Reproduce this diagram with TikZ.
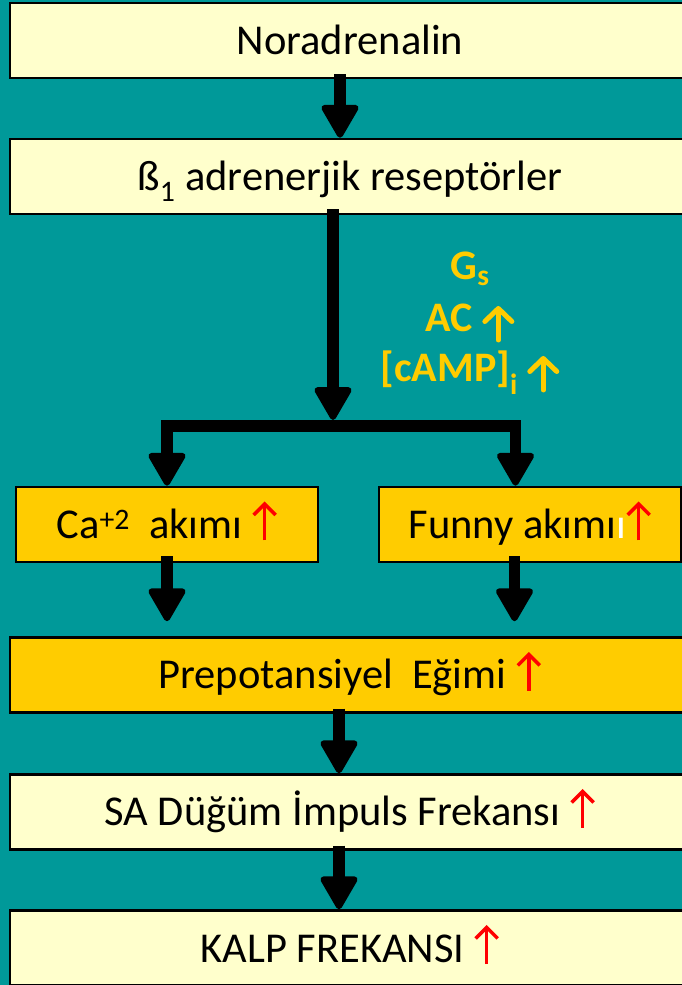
\documentclass[tikz,border=0pt]{standalone}
\usepackage{fontspec}
\setmainfont{Carlito}
\usetikzlibrary{arrows.meta,calc}
\definecolor{bgteal}{HTML}{009999}
\definecolor{paleyel}{HTML}{FFFFCC}
\definecolor{goldy}{HTML}{FFCC00}
\definecolor{redup}{HTML}{FF0000}
\newcommand\redarrow{\tikz[baseline=0pt]\draw[redup,line width=3.5pt,-{Straight Barb[length=11pt,width=22pt]}] (0pt,-2pt) -- (0pt,37pt);}
\newcommand\goldarrow{\tikz[baseline=0pt]\draw[goldy,line width=5pt,line cap=round,-{Straight Barb[length=13pt,width=27pt,round]}] (0pt,-8pt) -- (0pt,26pt);}
\begin{document}
\begin{tikzpicture}[x=1pt,y=1pt,
  box/.style={draw=black,line width=2.5pt,minimum height=75pt,inner sep=0pt,
    text height=34pt,text depth=6pt,font=\fontsize{42.5}{50}\selectfont},
  widebox/.style={box,fill=paleyel,minimum width=680pt},
  goldwide/.style={box,fill=goldy,minimum width=680pt},
  halfbox/.style={box,fill=goldy,minimum width=302pt},
  bigarrow/.style={line width=11.5pt,line join=miter,-{Triangle[length=36pt,width=40pt,line width=6pt,round]}},
  gtext/.style={anchor=base,text=goldy,font=\fontsize{42}{50}\selectfont\bfseries}]
\useasboundingbox (0,0) rectangle (682,985);
\clip (0,0) rectangle (682,985);
\fill[bgteal] (0,0) rectangle (682,985);
% boxes
\node[widebox] (b1) at (350,944.5) {Noradrenalin};
\node[widebox] (b2) at (350,808.5) {ß\textsubscript{1} adrenerjik reseptörler};
\node[halfbox] (ca) at (167,460.5) {Ca\textsuperscript{+2}\ \ akımı \redarrow};
\node[halfbox] (funny) at (530,460.5) {Funny akımı{\color{white}ı}\redarrow};
\node[goldwide] (prep) at (350,310) {Prepotansiyel\ \ Eğimi \redarrow};
\node[widebox] (sa) at (350,173) {SA Düğüm İmpuls Frekansı \redarrow};
\node[widebox] (kalp) at (350,37) {KALP FREKANSI \redarrow};
% gold labels
\node[gtext] (gs) at (470,705) {G\textsubscript{s}};
\node[gtext] (ac) at (470,653) {AC \goldarrow};
\node[gtext] (camp) at (470,603) {[cAMP]\textsubscript{i} \goldarrow};
% junction
\coordinate (jtop) at (333,565);
\coordinate (jm) at (333,559);
% connectors
\draw[bigarrow] ($(b1.south)+(-10pt,5pt)$) -- ($(b2.north)+(-10pt,0pt)$);
\draw[bigarrow] ($(b2.south)+(-17pt,6pt)$) -- (jtop);
\draw[bigarrow] (jm) -| (ca.north);
\draw[bigarrow] (jm) -| ($(funny.north)+(-14.5pt,0pt)$);
\draw[bigarrow] ($(ca.south)+(0pt,7pt)$) -- ($(ca.south |- prep.north)+(0pt,15pt)$);
\draw[bigarrow] ($(funny.south)+(-15.5pt,7pt)$) -- ($(funny.south |- prep.north)+(-15.5pt,15pt)$);
\draw[bigarrow] ($(prep.south)+(-11pt,5pt)$) -- ($(sa.north)+(-11pt,0pt)$);
\draw[bigarrow] ($(sa.south)+(-11pt,5pt)$) -- ($(kalp.north)+(-11pt,0pt)$);
\end{tikzpicture}
\end{document}
